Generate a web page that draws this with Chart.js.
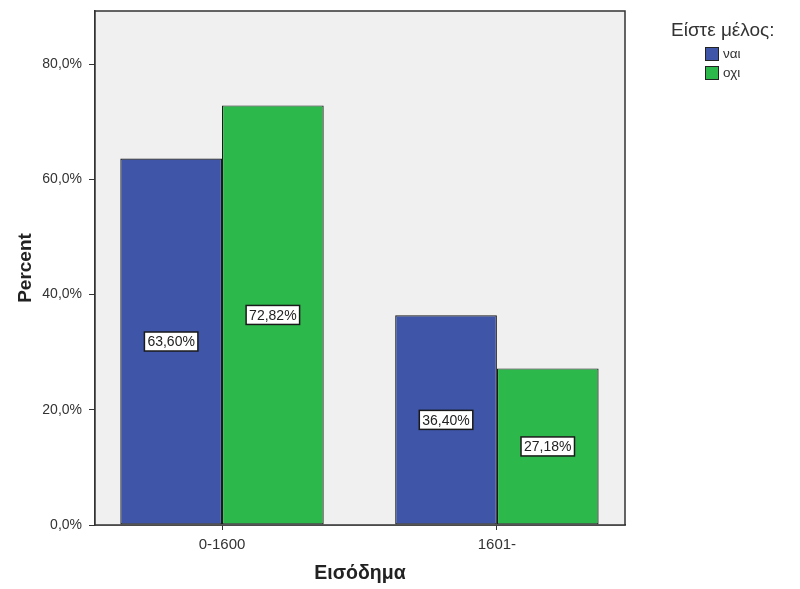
<!DOCTYPE html>
<html>
<head>
<meta charset="utf-8">
<script src="https://cdn.jsdelivr.net/npm/chart.js@4.4.1/dist/chart.umd.min.js"></script>
<style>
  body { margin: 0; background: #fff; font-family: "Liberation Sans", Arial, sans-serif; }
  .wrap { position: relative; width: 800px; height: 589px; }
  .legend { position: absolute; left: 671px; top: 18px; color: #333; }
  .legend .title { font-size: 19px; line-height: 24px; margin-bottom: 2px; }
  .legend .item { font-size: 13.5px; margin-left: 34px; height: 19px; display: flex; align-items: center; }
  .legend .box { width: 12px; height: 12px; border: 1px solid #222; margin-right: 4px; }
</style>
</head>
<body>
<div class="wrap">
  <canvas id="chart" width="800" height="589"></canvas>
  <div class="legend" id="legend"></div>
</div>
<script>
const categories = ['0-1600', '1601-'];
const seriesNames = ['ναι', 'οχι'];
const naiValues = [63.60, 36.40];
const oxiValues = [72.82, 27.18];
const yTicks = [0, 20, 40, 60, 80];
const legendTitle = 'Είστε μέλος:';

const colors = ['#3e55a8', '#2db84c'];
const fontFamily = '"Liberation Sans", Arial, sans-serif';

function fmt(v, digits) {
  return v.toFixed(digits).replace('.', ',') + '%';
}

const frame = {
  id: 'frame',
  beforeDatasetsDraw(chart) {
    const a = chart.chartArea, ctx = chart.ctx;
    ctx.save();
    ctx.fillStyle = '#f0f0f0';
    ctx.fillRect(a.left, a.top, a.right - a.left, a.bottom - a.top);
    ctx.restore();
  },
  afterDatasetsDraw(chart) {
    const a = chart.chartArea, ctx = chart.ctx;
    ctx.save();
    ctx.strokeStyle = '#333';
    ctx.lineWidth = 1.5;
    ctx.strokeRect(a.left, a.top, a.right - a.left, a.bottom - a.top);
    // value labels
    ctx.font = '14px ' + fontFamily;
    ctx.textAlign = 'center';
    ctx.textBaseline = 'middle';
    chart.data.datasets.forEach((ds, i) => {
      chart.getDatasetMeta(i).data.forEach((el, j) => {
        const txt = fmt(ds.data[j].y, 2);
        const w = ctx.measureText(txt).width + 6;
        const h = 19;
        const cx = el.x, cy = (el.y + el.base) / 2;
        ctx.fillStyle = '#fff';
        ctx.fillRect(cx - w / 2, cy - h / 2, w, h);
        ctx.strokeStyle = '#1a1a1a';
        ctx.lineWidth = 1.5;
        ctx.strokeRect(cx - w / 2, cy - h / 2, w, h);
        ctx.fillStyle = '#222';
        ctx.fillText(txt, cx, cy + 1);
      });
    });
    ctx.restore();
  }
};

new Chart(document.getElementById('chart'), {
  type: 'bar',
  data: {
    datasets: [
      { label: seriesNames[0], data: naiValues.map((v, i) => ({ x: i + 1, y: v })), backgroundColor: colors[0], borderColor: '#1a1a1a', borderWidth: 1.2, borderSkipped: false },
      { label: seriesNames[1], data: oxiValues.map((v, i) => ({ x: i + 1, y: v })), backgroundColor: colors[1], borderColor: '#1a1a1a', borderWidth: 1.2, borderSkipped: false }
    ]
  },
  options: {
    responsive: false,
    animation: false,
    categoryPercentage: 0.74,
    barPercentage: 1,
    layout: { padding: { top: 11, right: 175, left: 0, bottom: 0 } },
    plugins: { legend: { display: false }, tooltip: { enabled: false } },
    scales: {
      x: {
        type: 'linear',
        offset: false,
        min: 0.538,
        max: 2.466,
        afterBuildTicks: s => { s.ticks = categories.map((c, i) => ({ value: i + 1 })); },
        afterFit: s => { s.height = 64; s.paddingLeft = 0; s.paddingRight = 0; },
        ticks: {
          callback: (v) => categories[v - 1],
          color: '#333', font: { family: fontFamily, size: 15 }, padding: 6
        },
        grid: { offset: false, drawOnChartArea: false, tickLength: 5, color: '#333' },
        border: { color: '#333', width: 1.5 },
        title: { display: true, text: 'Εισόδημα', color: '#222', font: { family: fontFamily, size: 19.5, weight: 'bold' }, padding: { top: 6 } }
      },
      y: {
        min: 0,
        max: 89.2,
        afterBuildTicks: s => { s.ticks = yTicks.map(v => ({ value: v })); },
        afterFit: s => { s.width = 95; s.paddingTop = 0; s.paddingBottom = 0; },
        ticks: {
          callback: v => fmt(v, 1),
          color: '#333', font: { family: fontFamily, size: 14 }, padding: 7
        },
        grid: { drawOnChartArea: false, tickLength: 6, color: '#333' },
        border: { color: '#333', width: 1.5 },
        title: { display: true, text: 'Percent', color: '#222', font: { family: fontFamily, size: 19, weight: 'bold' }, padding: { top: 14, bottom: 0 } }
      }
    }
  },
  plugins: [frame]
});

const legend = document.getElementById('legend');
legend.innerHTML = `<div class="title">${legendTitle}</div>` +
  seriesNames.map((n, i) => `<div class="item"><span class="box" style="background:${colors[i]}"></span>${n}</div>`).join('');
</script>
</body>
</html>
